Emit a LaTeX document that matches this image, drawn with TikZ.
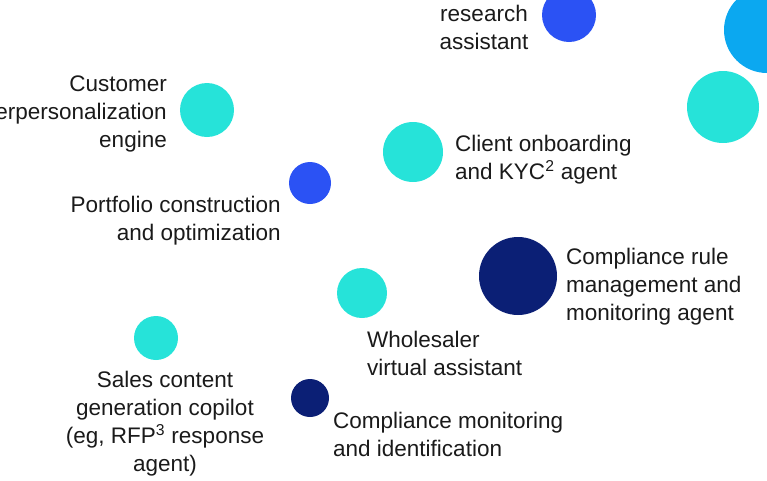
\documentclass[tikz,border=0pt]{standalone}
\usepackage{fontspec}
\setmainfont{Liberation Sans}
\definecolor{cy}{HTML}{26E3D9}
\definecolor{bl}{HTML}{2B52F4}
\definecolor{nv}{HTML}{0B1F75}
\definecolor{sky}{HTML}{0BA8F0}
\definecolor{tx}{HTML}{1A1A1A}
\begin{document}
\begin{tikzpicture}[x=1pt,y=-1pt,
  dot/.style={circle,inner sep=0pt,draw=none},
  lab/.style={text=tx,font=\fontsize{22.5}{28}\selectfont,inner sep=0pt}]
\useasboundingbox (0,0) rectangle (767,480);
\clip (0,0) rectangle (767,480);
\node[dot,fill=bl,minimum size=54pt] (d1) at (569,15) {};
\node[dot,fill=sky,minimum size=86pt] (d2) at (767,30) {};
\node[dot,fill=cy,minimum size=72pt] (d3) at (723,107) {};
\node[dot,fill=cy,minimum size=54pt] (d4) at (207,110) {};
\node[dot,fill=cy,minimum size=60pt] (d5) at (413,152) {};
\node[dot,fill=bl,minimum size=42pt] (d6) at (310,183) {};
\node[dot,fill=nv,minimum size=78pt] (d7) at (518,276) {};
\node[dot,fill=cy,minimum size=50pt] (d8) at (362,293) {};
\node[dot,fill=cy,minimum size=44pt] (d9) at (156,338) {};
\node[dot,fill=nv,minimum size=38pt] (d10) at (310,398) {};

\node[lab,align=center,anchor=north] (t1) at (484,5) {research\\assistant};
\node[lab,align=right,anchor=north east] (t4) at (167,76) {Customer\\hyperpersonalization\\engine};
\node[lab,align=left,anchor=north west] (t5) at (455,135) {Client onboarding\\and KYC\textsuperscript{2} agent};
\node[lab,align=right,anchor=north east] (t6) at (281,196) {Portfolio construction\\and optimization};
\node[lab,align=left,anchor=north west] (t7) at (566,248) {Compliance rule\\management and\\monitoring agent};
\node[lab,align=left,anchor=north west] (t8) at (367,331) {Wholesaler\\virtual assistant};
\node[lab,align=center,anchor=north] (t9) at (165,371) {Sales content\\generation copilot\\(eg, RFP\textsuperscript{3} response\\agent)};
\node[lab,align=left,anchor=north west] (t10) at (333,412) {Compliance monitoring\\and identification};
\end{tikzpicture}
\end{document}
